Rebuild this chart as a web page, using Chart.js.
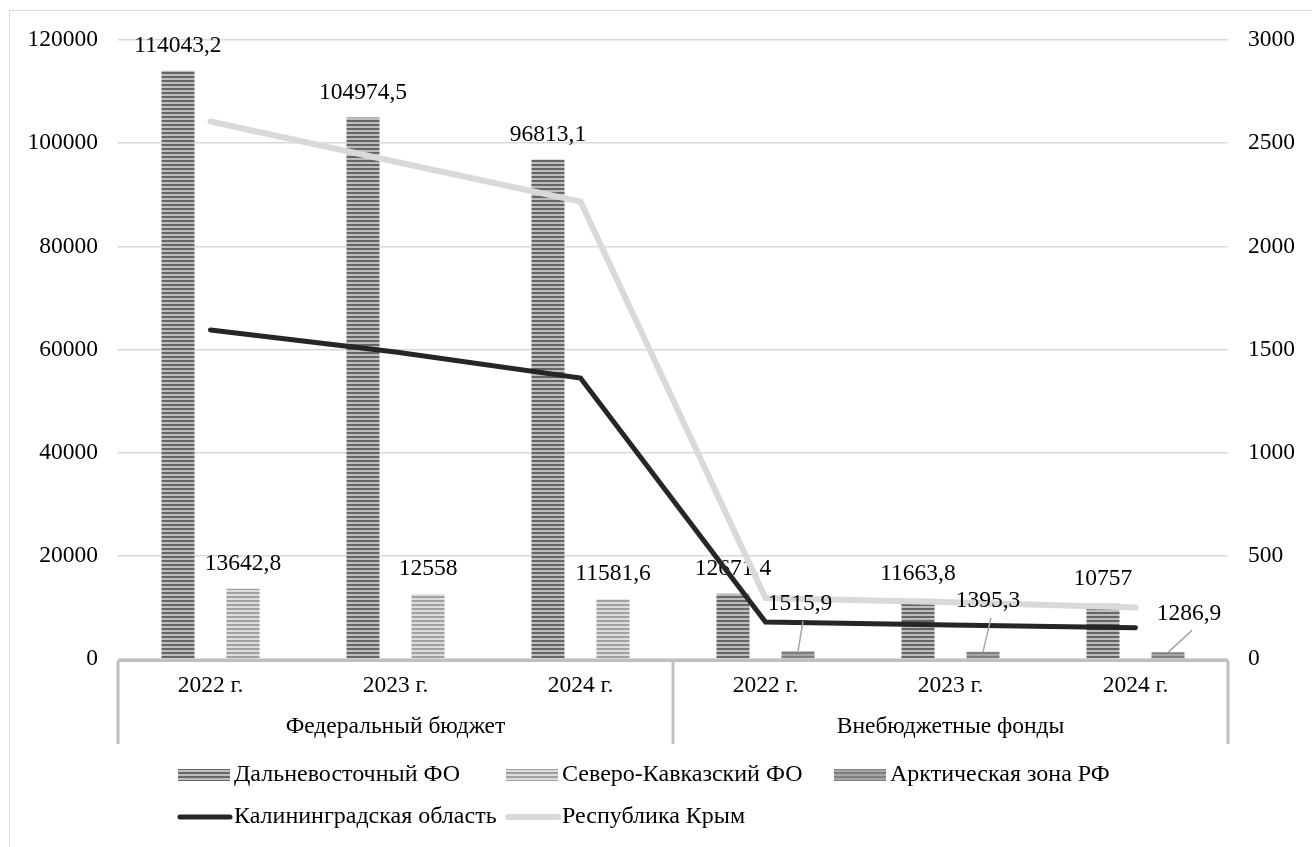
<!DOCTYPE html>
<html>
<head>
<meta charset="utf-8">
<script src="https://cdn.jsdelivr.net/npm/chart.js@4.4.0/dist/chart.umd.min.js"></script>
<style>
  html, body { margin: 0; padding: 0; background: #fff; }
  #wrap { position: relative; width: 1312px; height: 847px; overflow: hidden; }
  #frame { position: absolute; left: 9px; top: 10px; width: 1330px; height: 870px;
           border: 1.5px solid #d9d9d9; box-sizing: border-box; }
  canvas { position: absolute; left: 0; top: 0; }
</style>
</head>
<body>
<div id="wrap">
  <div id="frame"></div>
  <canvas id="budgetChart" width="1312" height="847"></canvas>
</div>
<script>
const years = ["2022 г.", "2023 г.", "2024 г.", "2022 г.", "2023 г.", "2024 г."];
const groups = ["Федеральный бюджет", "Внебюджетные фонды"];

const farEast = [114043.2, 104974.5, 96813.1, 12671.4, 11663.8, 10757];
const northCaucasus = [13642.8, 12558, 11581.6, null, null, null];
const arcticZone = [null, null, null, 1515.9, 1395.3, 1286.9];
const kaliningrad = [1595, 1488, 1362, 179, 165, 152];
const crimea = [2605, 2410, 2217, 296, 275, 249];

const leftTicks = [0, 20000, 40000, 60000, 80000, 100000, 120000];
const rightTicks = [0, 500, 1000, 1500, 2000, 2500, 3000];

const FONT = "'Liberation Serif', 'Times New Roman', serif";
const SIZE = 23.5;
Chart.defaults.font.family = FONT;
Chart.defaults.font.size = SIZE;
Chart.defaults.color = "#000";

// horizontal stripes like the Excel pattern fill
function stripes(dark, light) {
  const c = document.createElement("canvas");
  c.width = 1;
  c.height = 4;
  const g = c.getContext("2d");
  g.fillStyle = light;
  g.fillRect(0, 0, 1, 4);
  g.fillStyle = dark;
  g.fillRect(0, 0, 1, 2);
  return g.createPattern(c, "repeat");
}

const fmt = (v) => String(v).replace(".", ",");

function drawValues(chart, index) {
  const ds = chart.data.datasets[index];
  const meta = chart.getDatasetMeta(index);
  const ctx = chart.ctx;
  ctx.save();
  ctx.font = SIZE + "px " + FONT;
  ctx.fillStyle = "#000";
  ctx.textAlign = "center";
  ctx.textBaseline = "middle";
  meta.data.forEach((bar, i) => {
    const v = ds.data[i];
    if (v === null) return;
    const shift = ds.labelShift ? ds.labelShift[i] : [0, -25];
    const lx = bar.x + shift[0];
    const ly = bar.y + shift[1];
    if (ds.labelShift) {
      ctx.strokeStyle = "#a6a6a6";
      ctx.lineWidth = 1.5;
      ctx.beginPath();
      ctx.moveTo(bar.x, bar.y);
      ctx.lineTo(lx + 3, ly + 17);
      ctx.stroke();
    }
    ctx.fillText(fmt(v), lx, ly);
  });
  ctx.restore();
}

// plain labels go under the lines, the moved ones sit on top
const barLabels = {
  id: "barLabels",
  afterDatasetDraw(chart, args) {
    const ds = chart.data.datasets[args.index];
    if (ds.type === "bar" && !ds.labelShift) drawValues(chart, args.index);
  },
  afterDatasetsDraw(chart) {
    chart.data.datasets.forEach((ds, i) => {
      if (ds.labelShift) drawValues(chart, i);
    });
  },
};

const axisFrame = {
  id: "axisFrame",
  beforeDatasetsDraw(chart) {
    const { ctx, chartArea, scales } = chart;
    const x = scales.x;
    const mid = (x.getPixelForTick(2) + x.getPixelForTick(3)) / 2;
    const bottom = chartArea.bottom + 1.5;
    const low = 744;
    ctx.save();
    ctx.strokeStyle = "#bfbfbf";
    ctx.lineWidth = 3;
    ctx.beginPath();
    ctx.moveTo(chartArea.left, bottom);
    ctx.lineTo(chartArea.right, bottom);
    [chartArea.left, mid, chartArea.right].forEach((px) => {
      ctx.moveTo(px, bottom);
      ctx.lineTo(px, low);
    });
    ctx.stroke();

    ctx.font = SIZE + "px " + FONT;
    ctx.fillStyle = "#000";
    ctx.textAlign = "center";
    ctx.textBaseline = "middle";
    ctx.fillText(groups[0], (chartArea.left + mid) / 2, 727);
    ctx.fillText(groups[1], (mid + chartArea.right) / 2, 727);
    ctx.restore();
  },
};

const gridLegend = {
  id: "gridLegend",
  afterDraw(chart) {
    const ctx = chart.ctx;
    ctx.save();
    ctx.font = "24px " + FONT;
    ctx.textBaseline = "middle";
    ctx.textAlign = "left";
    chart.data.datasets.forEach((ds, i) => {
      const col = i % 3;
      const row = Math.floor(i / 3);
      const x0 = 178 + col * 328;
      const y0 = 775 + row * 42;
      if (ds.type === "bar") {
        ctx.fillStyle = ds.backgroundColor;
        ctx.fillRect(x0, y0 - 6, 52, 12);
      } else {
        ctx.strokeStyle = ds.borderColor;
        ctx.lineWidth = ds.borderWidth;
        ctx.lineCap = "round";
        ctx.beginPath();
        ctx.moveTo(x0 + 2, y0);
        ctx.lineTo(x0 + 52, y0);
        ctx.stroke();
      }
      ctx.fillStyle = "#000";
      ctx.fillText(ds.label, x0 + 56, y0);
    });
    ctx.restore();
  },
};

const barStyle = {
  type: "bar",
  yAxisID: "y",
  order: 1,
  skipNull: true,
  categoryPercentage: 0.703,
  barPercentage: 0.508,
};

const lineStyle = {
  type: "line",
  yAxisID: "y1",
  order: 0,
  borderWidth: 5,
  pointRadius: 0,
  borderCapStyle: "round",
  borderJoinStyle: "miter",
  tension: 0,
};

new Chart(document.getElementById("budgetChart").getContext("2d"), {
  data: {
    labels: years,
    datasets: [
      { ...barStyle, label: "Дальневосточный ФО", data: farEast,
        backgroundColor: stripes("#666666", "#bdbdbd") },
      { ...barStyle, label: "Северо-Кавказский ФО", data: northCaucasus,
        backgroundColor: stripes("#a0a0a0", "#dcdcdc") },
      { ...barStyle, label: "Арктическая зона РФ", data: arcticZone,
        backgroundColor: stripes("#7f7f7f", "#a6a6a6"),
        labelShift: [[0, 0], [0, 0], [0, 0], [2, -47], [5, -51], [21, -39]] },
      { ...lineStyle, label: "Калининградская область", data: kaliningrad,
        borderColor: "#262626" },
      { ...lineStyle, label: "Республика Крым", data: crimea,
        borderColor: "#d9d9d9", borderWidth: 6 },
    ],
  },
  options: {
    responsive: false,
    animation: false,
    layout: { padding: { top: 40, left: 0, right: 0, bottom: 0 } },
    plugins: {
      legend: { display: false },
      tooltip: { enabled: false },
    },
    scales: {
      x: {
        type: "category",
        offset: true,
        grid: { display: false, drawTicks: false },
        border: { display: false },
        ticks: { padding: 13, maxRotation: 0, autoSkip: false },
        afterFit: (scale) => { scale.height = 188; },
      },
      y: {
        position: "left",
        min: leftTicks[0],
        max: leftTicks[leftTicks.length - 1],
        grid: { color: "#d9d9d9", lineWidth: 1.5, drawTicks: false },
        border: { display: false },
        ticks: {
          stepSize: leftTicks[1] - leftTicks[0],
          padding: 20,
          callback: (v) => String(v),
        },
        afterFit: (scale) => { scale.width = 118; },
      },
      y1: {
        position: "right",
        min: rightTicks[0],
        max: rightTicks[rightTicks.length - 1],
        grid: { display: false, drawTicks: false },
        border: { display: false },
        ticks: {
          stepSize: rightTicks[1] - rightTicks[0],
          padding: 20,
          callback: (v) => String(v),
        },
        afterFit: (scale) => { scale.width = 84; },
      },
    },
  },
  plugins: [axisFrame, barLabels, gridLegend],
});
</script>
</body>
</html>
